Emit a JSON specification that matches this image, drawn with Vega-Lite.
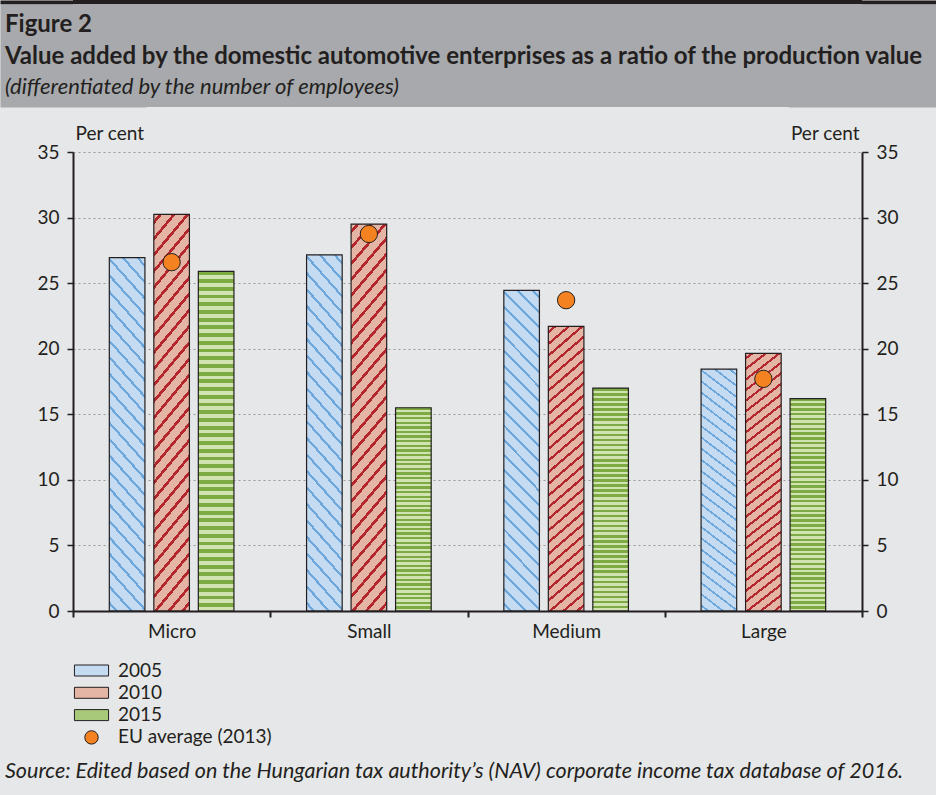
{
"$schema": "https://vega.github.io/schema/vega-lite/v6.json",
"background": "#e6e7e8",
"padding": {"left": 0, "top": 0, "right": 0, "bottom": 14},
"config": {
  "font": "Lato",
  "view": {"stroke": null},
  "axis": {"labelFontSize": 19, "labelColor": "#231f20", "titleFontSize": 19, "titleFontWeight": "normal", "titleColor": "#231f20", "domainColor": "#231f20", "tickColor": "#231f20", "labelFont": "Lato", "titleFont": "Lato"}
},
"title": {"text": "Source: Edited based on the Hungarian tax authority’s (NAV) corporate income tax database of 2016.", "orient": "bottom", "anchor": "start", "frame": "bounds", "dx": 5, "offset": 13, "fontSize": 21.5, "fontStyle": "italic", "fontWeight": "normal", "color": "#231f20", "font": "Lato"},
"datasets": {
  "bars": [
    {"cat": "Micro", "year": "2005", "value": 26.95},
    {"cat": "Micro", "year": "2010", "value": 30.25},
    {"cat": "Micro", "year": "2015", "value": 25.9},
    {"cat": "Small", "year": "2005", "value": 27.15},
    {"cat": "Small", "year": "2010", "value": 29.5},
    {"cat": "Small", "year": "2015", "value": 15.5},
    {"cat": "Medium", "year": "2005", "value": 24.45},
    {"cat": "Medium", "year": "2010", "value": 21.7},
    {"cat": "Medium", "year": "2015", "value": 17.0},
    {"cat": "Large", "year": "2005", "value": 18.45},
    {"cat": "Large", "year": "2010", "value": 19.65},
    {"cat": "Large", "year": "2015", "value": 16.2}
  ],
  "eu": [
    {"cat": "Micro", "value": 26.6},
    {"cat": "Small", "value": 28.75},
    {"cat": "Medium", "value": 23.7},
    {"cat": "Large", "value": 17.7}
  ]
},
"spacing": 0,
"vconcat": [
  {"width": 789, "height": 4, "view": {"fill": "#231f20", "stroke": null},
   "layer": [
     {"data": {"values": [{}]}, "mark": {"type": "text", "fontSize": 0}, "encoding": {"text": {"value": ""},
       "y": {"datum": 0, "type": "quantitative", "scale": {"domain": [0, 1]}, "axis": {"orient": "left", "labels": false, "ticks": false, "grid": false, "title": null, "domainColor": "#231f20", "domainWidth": 146, "domainCap": "butt", "minExtent": 73, "maxExtent": 73}}}},
     {"data": {"values": [{}]}, "mark": {"type": "text", "fontSize": 0}, "encoding": {"text": {"value": ""},
       "y": {"datum": 0, "type": "quantitative", "axis": {"orient": "right", "labels": false, "ticks": false, "grid": false, "title": null, "domainColor": "#231f20", "domainWidth": 147, "domainCap": "butt", "minExtent": 74, "maxExtent": 74}}}}
   ],
   "resolve": {"axis": {"y": "independent"}}
  },
  {"width": 789, "height": 103, "view": {"fill": "#a7a9ac", "stroke": null},
   "title": {"text": ["Figure 2", "Value added by the domestic automotive enterprises as a ratio of the production value"], "subtitle": "(differentiated by the number of employees)", "anchor": "start", "frame": "group", "orient": "top", "dx": -68, "offset": -93.5, "font": "Lato", "fontSize": 24, "fontWeight": "bold", "lineHeight": 32, "color": "#231f20", "subtitleFont": "Lato", "subtitleFontSize": 22, "subtitleFontStyle": "italic", "subtitleColor": "#231f20", "subtitlePadding": 8},
   "layer": [
     {"data": {"values": [{}]}, "mark": {"type": "text", "fontSize": 0}, "encoding": {"text": {"value": ""},
       "y": {"datum": 0, "type": "quantitative", "scale": {"domain": [0, 1]}, "axis": {"orient": "left", "labels": false, "ticks": false, "grid": false, "title": null, "domainColor": "#a7a9ac", "domainWidth": 146, "domainCap": "butt", "minExtent": 73, "maxExtent": 73}}}},
     {"data": {"values": [{}]}, "mark": {"type": "text", "fontSize": 0}, "encoding": {"text": {"value": ""},
       "y": {"datum": 0, "type": "quantitative", "axis": {"orient": "right", "labels": false, "ticks": false, "grid": false, "title": null, "domainColor": "#a7a9ac", "domainWidth": 147, "domainCap": "butt", "minExtent": 74, "maxExtent": 74}}}}
   ],
   "resolve": {"axis": {"y": "independent"}}
  },
  {
    "width": 789, "height": 459,
    "layer": [
      {"data": {"name": "bars"}, "mark": {"type": "bar"},
       "encoding": {
         "x": {"field": "cat", "type": "nominal", "sort": ["Micro", "Small", "Medium", "Large"], "scale": {"paddingInner": 0, "paddingOuter": 0},
               "axis": {"title": null, "labelAngle": 0, "tickBand": "extent", "tickSize": 6, "tickWidth": 2, "domainWidth": 2, "labelPadding": 5, "zindex": 1}},
         "xOffset": {"field": "year", "type": "nominal", "scale": {"paddingInner": 0.2, "paddingOuter": 0.8163}},
         "y": {"field": "value", "type": "quantitative", "scale": {"domain": [0, 35], "nice": false},
               "axis": {"orient": "left", "values": [0, 5, 10, 15, 20, 25, 30, 35], "grid": true, "gridColor": "#9a9a9a", "gridDash": [2, 3], "gridWidth": 1.2, "title": "Per cent", "titleAngle": 0, "titleAlign": "left", "titleBaseline": "alphabetic", "titleX": 2, "titleY": -13, "tickSize": 6, "tickWidth": 1.5, "domainWidth": 2, "labelPadding": 8, "minExtent": 73}},
         "fill": {"field": "year", "type": "nominal",
                  "scale": {"domain": ["2005", "2010", "2015", "EU average (2013)"], "range": ["#c5dbf1", "#e4b4a4", "#a8c97a", "#f58220"]},
                  "legend": {"title": null, "orient": "none", "legendX": 7, "legendY": 659, "direction": "vertical", "symbolSize": 484, "rowPadding": 0.3, "labelOffset": 15, "labelFontSize": 19, "labelColor": "#231f20", "labelFont": "Lato", "padding": 0, "symbolStrokeWidth": 1, "symbolStrokeColor": "#231f20",
                    "encoding": {"symbols": {
                      "shape": {"value": {"expr": "datum.value === 'EU average (2013)' ? 'circle' : 'M-1.55,-0.5H1.55V0.5H-1.55Z'"}},
                      "size": {"value": {"expr": "datum.value === 'EU average (2013)' ? 180 : 484"}},
                      "stroke": {"value": "#231f20"},
                      "strokeWidth": {"value": 1},
                      "fill": {"value": {"expr": "datum.value === '2005' ? {gradient:'linear',x1:0,y1:1,x2:1.2,y2:0.61,stops:[{offset:0,color:'#c5dbf1'},{offset:0.133,color:'#c5dbf1'},{offset:0.133,color:'#6ea7db'},{offset:0.2,color:'#6ea7db'},{offset:0.2,color:'#c5dbf1'},{offset:0.467,color:'#c5dbf1'},{offset:0.467,color:'#6ea7db'},{offset:0.533,color:'#6ea7db'},{offset:0.533,color:'#c5dbf1'},{offset:0.8,color:'#c5dbf1'},{offset:0.8,color:'#6ea7db'},{offset:0.867,color:'#6ea7db'},{offset:0.867,color:'#c5dbf1'},{offset:1,color:'#c5dbf1'}]} : datum.value === '2010' ? {gradient:'linear',x1:0,y1:0,x2:1.2,y2:0.39,stops:[{offset:0,color:'#e4b4a4'},{offset:0.124,color:'#e4b4a4'},{offset:0.124,color:'#b3262e'},{offset:0.21,color:'#b3262e'},{offset:0.21,color:'#e4b4a4'},{offset:0.457,color:'#e4b4a4'},{offset:0.457,color:'#b3262e'},{offset:0.543,color:'#b3262e'},{offset:0.543,color:'#e4b4a4'},{offset:0.79,color:'#e4b4a4'},{offset:0.79,color:'#b3262e'},{offset:0.876,color:'#b3262e'},{offset:0.876,color:'#e4b4a4'},{offset:1,color:'#e4b4a4'}]} : datum.value === '2015' ? {gradient:'linear',x1:0,y1:0,x2:0,y2:1,stops:[{offset:0,color:'#7eaa44'},{offset:0.2,color:'#7eaa44'},{offset:0.2,color:'#d0e3b1'},{offset:0.4,color:'#d0e3b1'},{offset:0.4,color:'#7eaa44'},{offset:0.6,color:'#7eaa44'},{offset:0.6,color:'#d0e3b1'},{offset:0.8,color:'#d0e3b1'},{offset:0.8,color:'#7eaa44'},{offset:1,color:'#7eaa44'}]} : '#f58220'"}}
                    }}}}
       }},
      {"data": {"name": "bars"}, "mark": {"type": "bar", "stroke": "#231f20", "strokeWidth": 1.2},
       "encoding": {
         "x": {"field": "cat", "type": "nominal", "sort": ["Micro", "Small", "Medium", "Large"],
               "axis": {"orient": "top", "labels": false, "ticks": false, "domain": false, "grid": false, "title": null, "minExtent": 45, "maxExtent": 45}},
         "xOffset": {"field": "year", "type": "nominal"},
         "y": {"field": "value", "type": "quantitative",
               "axis": {"orient": "right", "values": [0, 5, 10, 15, 20, 25, 30, 35], "grid": false, "title": "Per cent", "titleAngle": 0, "titleAlign": "right", "titleBaseline": "alphabetic", "titleX": -3, "titleY": -13, "tickSize": 6, "tickWidth": 1.5, "domainWidth": 2, "labelPadding": 8, "minExtent": 74}},
         "fill": {"condition": [
           {"test": "datum.year === '2005'", "value": {"gradient": "linear", "x1": 0, "y1": 1, "x2": 0.123, "y2": -0.098, "stops": [
             {"offset":0,"color":"#c5dbf1"},
             {"offset":0.0167,"color":"#c5dbf1"},{"offset":0.0167,"color":"#6ea7db"},{"offset":0.025,"color":"#6ea7db"},{"offset":0.025,"color":"#c5dbf1"},
             {"offset":0.0583,"color":"#c5dbf1"},{"offset":0.0583,"color":"#6ea7db"},{"offset":0.0667,"color":"#6ea7db"},{"offset":0.0667,"color":"#c5dbf1"},
             {"offset":0.1,"color":"#c5dbf1"},{"offset":0.1,"color":"#6ea7db"},{"offset":0.1083,"color":"#6ea7db"},{"offset":0.1083,"color":"#c5dbf1"},
             {"offset":0.1417,"color":"#c5dbf1"},{"offset":0.1417,"color":"#6ea7db"},{"offset":0.15,"color":"#6ea7db"},{"offset":0.15,"color":"#c5dbf1"},
             {"offset":0.1833,"color":"#c5dbf1"},{"offset":0.1833,"color":"#6ea7db"},{"offset":0.1917,"color":"#6ea7db"},{"offset":0.1917,"color":"#c5dbf1"},
             {"offset":0.225,"color":"#c5dbf1"},{"offset":0.225,"color":"#6ea7db"},{"offset":0.2333,"color":"#6ea7db"},{"offset":0.2333,"color":"#c5dbf1"},
             {"offset":0.2667,"color":"#c5dbf1"},{"offset":0.2667,"color":"#6ea7db"},{"offset":0.275,"color":"#6ea7db"},{"offset":0.275,"color":"#c5dbf1"},
             {"offset":0.3083,"color":"#c5dbf1"},{"offset":0.3083,"color":"#6ea7db"},{"offset":0.3167,"color":"#6ea7db"},{"offset":0.3167,"color":"#c5dbf1"},
             {"offset":0.35,"color":"#c5dbf1"},{"offset":0.35,"color":"#6ea7db"},{"offset":0.3583,"color":"#6ea7db"},{"offset":0.3583,"color":"#c5dbf1"},
             {"offset":0.3917,"color":"#c5dbf1"},{"offset":0.3917,"color":"#6ea7db"},{"offset":0.4,"color":"#6ea7db"},{"offset":0.4,"color":"#c5dbf1"},
             {"offset":0.4333,"color":"#c5dbf1"},{"offset":0.4333,"color":"#6ea7db"},{"offset":0.4417,"color":"#6ea7db"},{"offset":0.4417,"color":"#c5dbf1"},
             {"offset":0.475,"color":"#c5dbf1"},{"offset":0.475,"color":"#6ea7db"},{"offset":0.4833,"color":"#6ea7db"},{"offset":0.4833,"color":"#c5dbf1"},
             {"offset":0.5167,"color":"#c5dbf1"},{"offset":0.5167,"color":"#6ea7db"},{"offset":0.525,"color":"#6ea7db"},{"offset":0.525,"color":"#c5dbf1"},
             {"offset":0.5583,"color":"#c5dbf1"},{"offset":0.5583,"color":"#6ea7db"},{"offset":0.5667,"color":"#6ea7db"},{"offset":0.5667,"color":"#c5dbf1"},
             {"offset":0.6,"color":"#c5dbf1"},{"offset":0.6,"color":"#6ea7db"},{"offset":0.6083,"color":"#6ea7db"},{"offset":0.6083,"color":"#c5dbf1"},
             {"offset":0.6417,"color":"#c5dbf1"},{"offset":0.6417,"color":"#6ea7db"},{"offset":0.65,"color":"#6ea7db"},{"offset":0.65,"color":"#c5dbf1"},
             {"offset":0.6833,"color":"#c5dbf1"},{"offset":0.6833,"color":"#6ea7db"},{"offset":0.6917,"color":"#6ea7db"},{"offset":0.6917,"color":"#c5dbf1"},
             {"offset":0.725,"color":"#c5dbf1"},{"offset":0.725,"color":"#6ea7db"},{"offset":0.7333,"color":"#6ea7db"},{"offset":0.7333,"color":"#c5dbf1"},
             {"offset":0.7667,"color":"#c5dbf1"},{"offset":0.7667,"color":"#6ea7db"},{"offset":0.775,"color":"#6ea7db"},{"offset":0.775,"color":"#c5dbf1"},
             {"offset":0.8083,"color":"#c5dbf1"},{"offset":0.8083,"color":"#6ea7db"},{"offset":0.8167,"color":"#6ea7db"},{"offset":0.8167,"color":"#c5dbf1"},
             {"offset":0.85,"color":"#c5dbf1"},{"offset":0.85,"color":"#6ea7db"},{"offset":0.8583,"color":"#6ea7db"},{"offset":0.8583,"color":"#c5dbf1"},
             {"offset":0.8917,"color":"#c5dbf1"},{"offset":0.8917,"color":"#6ea7db"},{"offset":0.9,"color":"#6ea7db"},{"offset":0.9,"color":"#c5dbf1"},
             {"offset":0.9333,"color":"#c5dbf1"},{"offset":0.9333,"color":"#6ea7db"},{"offset":0.9417,"color":"#6ea7db"},{"offset":0.9417,"color":"#c5dbf1"},
             {"offset":0.975,"color":"#c5dbf1"},{"offset":0.975,"color":"#6ea7db"},{"offset":0.9833,"color":"#6ea7db"},{"offset":0.9833,"color":"#c5dbf1"},
             {"offset":1,"color":"#c5dbf1"}]}},
           {"test": "datum.year === '2010'", "value": {"gradient": "linear", "x1": 0, "y1": 0, "x2": 0.1176, "y2": 1.0947, "stops": [
             {"offset":0,"color":"#e4b4a4"},
             {"offset":0.0137,"color":"#e4b4a4"},{"offset":0.0137,"color":"#b3262e"},{"offset":0.0233,"color":"#b3262e"},{"offset":0.0233,"color":"#e4b4a4"},
             {"offset":0.0507,"color":"#e4b4a4"},{"offset":0.0507,"color":"#b3262e"},{"offset":0.0603,"color":"#b3262e"},{"offset":0.0603,"color":"#e4b4a4"},
             {"offset":0.0878,"color":"#e4b4a4"},{"offset":0.0878,"color":"#b3262e"},{"offset":0.0974,"color":"#b3262e"},{"offset":0.0974,"color":"#e4b4a4"},
             {"offset":0.1248,"color":"#e4b4a4"},{"offset":0.1248,"color":"#b3262e"},{"offset":0.1344,"color":"#b3262e"},{"offset":0.1344,"color":"#e4b4a4"},
             {"offset":0.1618,"color":"#e4b4a4"},{"offset":0.1618,"color":"#b3262e"},{"offset":0.1714,"color":"#b3262e"},{"offset":0.1714,"color":"#e4b4a4"},
             {"offset":0.1989,"color":"#e4b4a4"},{"offset":0.1989,"color":"#b3262e"},{"offset":0.2085,"color":"#b3262e"},{"offset":0.2085,"color":"#e4b4a4"},
             {"offset":0.2359,"color":"#e4b4a4"},{"offset":0.2359,"color":"#b3262e"},{"offset":0.2455,"color":"#b3262e"},{"offset":0.2455,"color":"#e4b4a4"},
             {"offset":0.273,"color":"#e4b4a4"},{"offset":0.273,"color":"#b3262e"},{"offset":0.2826,"color":"#b3262e"},{"offset":0.2826,"color":"#e4b4a4"},
             {"offset":0.31,"color":"#e4b4a4"},{"offset":0.31,"color":"#b3262e"},{"offset":0.3196,"color":"#b3262e"},{"offset":0.3196,"color":"#e4b4a4"},
             {"offset":0.347,"color":"#e4b4a4"},{"offset":0.347,"color":"#b3262e"},{"offset":0.3566,"color":"#b3262e"},{"offset":0.3566,"color":"#e4b4a4"},
             {"offset":0.3841,"color":"#e4b4a4"},{"offset":0.3841,"color":"#b3262e"},{"offset":0.3937,"color":"#b3262e"},{"offset":0.3937,"color":"#e4b4a4"},
             {"offset":0.4211,"color":"#e4b4a4"},{"offset":0.4211,"color":"#b3262e"},{"offset":0.4307,"color":"#b3262e"},{"offset":0.4307,"color":"#e4b4a4"},
             {"offset":0.4581,"color":"#e4b4a4"},{"offset":0.4581,"color":"#b3262e"},{"offset":0.4677,"color":"#b3262e"},{"offset":0.4677,"color":"#e4b4a4"},
             {"offset":0.4952,"color":"#e4b4a4"},{"offset":0.4952,"color":"#b3262e"},{"offset":0.5048,"color":"#b3262e"},{"offset":0.5048,"color":"#e4b4a4"},
             {"offset":0.5322,"color":"#e4b4a4"},{"offset":0.5322,"color":"#b3262e"},{"offset":0.5418,"color":"#b3262e"},{"offset":0.5418,"color":"#e4b4a4"},
             {"offset":0.5693,"color":"#e4b4a4"},{"offset":0.5693,"color":"#b3262e"},{"offset":0.5789,"color":"#b3262e"},{"offset":0.5789,"color":"#e4b4a4"},
             {"offset":0.6063,"color":"#e4b4a4"},{"offset":0.6063,"color":"#b3262e"},{"offset":0.6159,"color":"#b3262e"},{"offset":0.6159,"color":"#e4b4a4"},
             {"offset":0.6433,"color":"#e4b4a4"},{"offset":0.6433,"color":"#b3262e"},{"offset":0.6529,"color":"#b3262e"},{"offset":0.6529,"color":"#e4b4a4"},
             {"offset":0.6804,"color":"#e4b4a4"},{"offset":0.6804,"color":"#b3262e"},{"offset":0.69,"color":"#b3262e"},{"offset":0.69,"color":"#e4b4a4"},
             {"offset":0.7174,"color":"#e4b4a4"},{"offset":0.7174,"color":"#b3262e"},{"offset":0.727,"color":"#b3262e"},{"offset":0.727,"color":"#e4b4a4"},
             {"offset":0.7544,"color":"#e4b4a4"},{"offset":0.7544,"color":"#b3262e"},{"offset":0.764,"color":"#b3262e"},{"offset":0.764,"color":"#e4b4a4"},
             {"offset":0.7915,"color":"#e4b4a4"},{"offset":0.7915,"color":"#b3262e"},{"offset":0.8011,"color":"#b3262e"},{"offset":0.8011,"color":"#e4b4a4"},
             {"offset":0.8285,"color":"#e4b4a4"},{"offset":0.8285,"color":"#b3262e"},{"offset":0.8381,"color":"#b3262e"},{"offset":0.8381,"color":"#e4b4a4"},
             {"offset":0.8656,"color":"#e4b4a4"},{"offset":0.8656,"color":"#b3262e"},{"offset":0.8752,"color":"#b3262e"},{"offset":0.8752,"color":"#e4b4a4"},
             {"offset":0.9026,"color":"#e4b4a4"},{"offset":0.9026,"color":"#b3262e"},{"offset":0.9122,"color":"#b3262e"},{"offset":0.9122,"color":"#e4b4a4"},
             {"offset":0.9396,"color":"#e4b4a4"},{"offset":0.9396,"color":"#b3262e"},{"offset":0.9492,"color":"#b3262e"},{"offset":0.9492,"color":"#e4b4a4"},
             {"offset":0.9767,"color":"#e4b4a4"},{"offset":0.9767,"color":"#b3262e"},{"offset":0.9863,"color":"#b3262e"},{"offset":0.9863,"color":"#e4b4a4"},
             {"offset":1,"color":"#e4b4a4"}]}}
         ],
         "value": {"gradient": "linear", "x1": 0, "y1": 0, "x2": 0, "y2": 1, "stops": [
             {"offset":0,"color":"#7eaa44"},
             {"offset":0.0114,"color":"#7eaa44"},{"offset":0.0114,"color":"#d0e3b1"},{"offset":0.0227,"color":"#d0e3b1"},{"offset":0.0227,"color":"#7eaa44"},
             {"offset":0.0341,"color":"#7eaa44"},{"offset":0.0341,"color":"#d0e3b1"},{"offset":0.0455,"color":"#d0e3b1"},{"offset":0.0455,"color":"#7eaa44"},
             {"offset":0.0568,"color":"#7eaa44"},{"offset":0.0568,"color":"#d0e3b1"},{"offset":0.0682,"color":"#d0e3b1"},{"offset":0.0682,"color":"#7eaa44"},
             {"offset":0.0795,"color":"#7eaa44"},{"offset":0.0795,"color":"#d0e3b1"},{"offset":0.0909,"color":"#d0e3b1"},{"offset":0.0909,"color":"#7eaa44"},
             {"offset":0.1023,"color":"#7eaa44"},{"offset":0.1023,"color":"#d0e3b1"},{"offset":0.1136,"color":"#d0e3b1"},{"offset":0.1136,"color":"#7eaa44"},
             {"offset":0.125,"color":"#7eaa44"},{"offset":0.125,"color":"#d0e3b1"},{"offset":0.1364,"color":"#d0e3b1"},{"offset":0.1364,"color":"#7eaa44"},
             {"offset":0.1477,"color":"#7eaa44"},{"offset":0.1477,"color":"#d0e3b1"},{"offset":0.1591,"color":"#d0e3b1"},{"offset":0.1591,"color":"#7eaa44"},
             {"offset":0.1705,"color":"#7eaa44"},{"offset":0.1705,"color":"#d0e3b1"},{"offset":0.1818,"color":"#d0e3b1"},{"offset":0.1818,"color":"#7eaa44"},
             {"offset":0.1932,"color":"#7eaa44"},{"offset":0.1932,"color":"#d0e3b1"},{"offset":0.2045,"color":"#d0e3b1"},{"offset":0.2045,"color":"#7eaa44"},
             {"offset":0.2159,"color":"#7eaa44"},{"offset":0.2159,"color":"#d0e3b1"},{"offset":0.2273,"color":"#d0e3b1"},{"offset":0.2273,"color":"#7eaa44"},
             {"offset":0.2386,"color":"#7eaa44"},{"offset":0.2386,"color":"#d0e3b1"},{"offset":0.25,"color":"#d0e3b1"},{"offset":0.25,"color":"#7eaa44"},
             {"offset":0.2614,"color":"#7eaa44"},{"offset":0.2614,"color":"#d0e3b1"},{"offset":0.2727,"color":"#d0e3b1"},{"offset":0.2727,"color":"#7eaa44"},
             {"offset":0.2841,"color":"#7eaa44"},{"offset":0.2841,"color":"#d0e3b1"},{"offset":0.2955,"color":"#d0e3b1"},{"offset":0.2955,"color":"#7eaa44"},
             {"offset":0.3068,"color":"#7eaa44"},{"offset":0.3068,"color":"#d0e3b1"},{"offset":0.3182,"color":"#d0e3b1"},{"offset":0.3182,"color":"#7eaa44"},
             {"offset":0.3295,"color":"#7eaa44"},{"offset":0.3295,"color":"#d0e3b1"},{"offset":0.3409,"color":"#d0e3b1"},{"offset":0.3409,"color":"#7eaa44"},
             {"offset":0.3523,"color":"#7eaa44"},{"offset":0.3523,"color":"#d0e3b1"},{"offset":0.3636,"color":"#d0e3b1"},{"offset":0.3636,"color":"#7eaa44"},
             {"offset":0.375,"color":"#7eaa44"},{"offset":0.375,"color":"#d0e3b1"},{"offset":0.3864,"color":"#d0e3b1"},{"offset":0.3864,"color":"#7eaa44"},
             {"offset":0.3977,"color":"#7eaa44"},{"offset":0.3977,"color":"#d0e3b1"},{"offset":0.4091,"color":"#d0e3b1"},{"offset":0.4091,"color":"#7eaa44"},
             {"offset":0.4205,"color":"#7eaa44"},{"offset":0.4205,"color":"#d0e3b1"},{"offset":0.4318,"color":"#d0e3b1"},{"offset":0.4318,"color":"#7eaa44"},
             {"offset":0.4432,"color":"#7eaa44"},{"offset":0.4432,"color":"#d0e3b1"},{"offset":0.4545,"color":"#d0e3b1"},{"offset":0.4545,"color":"#7eaa44"},
             {"offset":0.4659,"color":"#7eaa44"},{"offset":0.4659,"color":"#d0e3b1"},{"offset":0.4773,"color":"#d0e3b1"},{"offset":0.4773,"color":"#7eaa44"},
             {"offset":0.4886,"color":"#7eaa44"},{"offset":0.4886,"color":"#d0e3b1"},{"offset":0.5,"color":"#d0e3b1"},{"offset":0.5,"color":"#7eaa44"},
             {"offset":0.5114,"color":"#7eaa44"},{"offset":0.5114,"color":"#d0e3b1"},{"offset":0.5227,"color":"#d0e3b1"},{"offset":0.5227,"color":"#7eaa44"},
             {"offset":0.5341,"color":"#7eaa44"},{"offset":0.5341,"color":"#d0e3b1"},{"offset":0.5455,"color":"#d0e3b1"},{"offset":0.5455,"color":"#7eaa44"},
             {"offset":0.5568,"color":"#7eaa44"},{"offset":0.5568,"color":"#d0e3b1"},{"offset":0.5682,"color":"#d0e3b1"},{"offset":0.5682,"color":"#7eaa44"},
             {"offset":0.5795,"color":"#7eaa44"},{"offset":0.5795,"color":"#d0e3b1"},{"offset":0.5909,"color":"#d0e3b1"},{"offset":0.5909,"color":"#7eaa44"},
             {"offset":0.6023,"color":"#7eaa44"},{"offset":0.6023,"color":"#d0e3b1"},{"offset":0.6136,"color":"#d0e3b1"},{"offset":0.6136,"color":"#7eaa44"},
             {"offset":0.625,"color":"#7eaa44"},{"offset":0.625,"color":"#d0e3b1"},{"offset":0.6364,"color":"#d0e3b1"},{"offset":0.6364,"color":"#7eaa44"},
             {"offset":0.6477,"color":"#7eaa44"},{"offset":0.6477,"color":"#d0e3b1"},{"offset":0.6591,"color":"#d0e3b1"},{"offset":0.6591,"color":"#7eaa44"},
             {"offset":0.6705,"color":"#7eaa44"},{"offset":0.6705,"color":"#d0e3b1"},{"offset":0.6818,"color":"#d0e3b1"},{"offset":0.6818,"color":"#7eaa44"},
             {"offset":0.6932,"color":"#7eaa44"},{"offset":0.6932,"color":"#d0e3b1"},{"offset":0.7045,"color":"#d0e3b1"},{"offset":0.7045,"color":"#7eaa44"},
             {"offset":0.7159,"color":"#7eaa44"},{"offset":0.7159,"color":"#d0e3b1"},{"offset":0.7273,"color":"#d0e3b1"},{"offset":0.7273,"color":"#7eaa44"},
             {"offset":0.7386,"color":"#7eaa44"},{"offset":0.7386,"color":"#d0e3b1"},{"offset":0.75,"color":"#d0e3b1"},{"offset":0.75,"color":"#7eaa44"},
             {"offset":0.7614,"color":"#7eaa44"},{"offset":0.7614,"color":"#d0e3b1"},{"offset":0.7727,"color":"#d0e3b1"},{"offset":0.7727,"color":"#7eaa44"},
             {"offset":0.7841,"color":"#7eaa44"},{"offset":0.7841,"color":"#d0e3b1"},{"offset":0.7955,"color":"#d0e3b1"},{"offset":0.7955,"color":"#7eaa44"},
             {"offset":0.8068,"color":"#7eaa44"},{"offset":0.8068,"color":"#d0e3b1"},{"offset":0.8182,"color":"#d0e3b1"},{"offset":0.8182,"color":"#7eaa44"},
             {"offset":0.8295,"color":"#7eaa44"},{"offset":0.8295,"color":"#d0e3b1"},{"offset":0.8409,"color":"#d0e3b1"},{"offset":0.8409,"color":"#7eaa44"},
             {"offset":0.8523,"color":"#7eaa44"},{"offset":0.8523,"color":"#d0e3b1"},{"offset":0.8636,"color":"#d0e3b1"},{"offset":0.8636,"color":"#7eaa44"},
             {"offset":0.875,"color":"#7eaa44"},{"offset":0.875,"color":"#d0e3b1"},{"offset":0.8864,"color":"#d0e3b1"},{"offset":0.8864,"color":"#7eaa44"},
             {"offset":0.8977,"color":"#7eaa44"},{"offset":0.8977,"color":"#d0e3b1"},{"offset":0.9091,"color":"#d0e3b1"},{"offset":0.9091,"color":"#7eaa44"},
             {"offset":0.9205,"color":"#7eaa44"},{"offset":0.9205,"color":"#d0e3b1"},{"offset":0.9318,"color":"#d0e3b1"},{"offset":0.9318,"color":"#7eaa44"},
             {"offset":0.9432,"color":"#7eaa44"},{"offset":0.9432,"color":"#d0e3b1"},{"offset":0.9545,"color":"#d0e3b1"},{"offset":0.9545,"color":"#7eaa44"},
             {"offset":0.9659,"color":"#7eaa44"},{"offset":0.9659,"color":"#d0e3b1"},{"offset":0.9773,"color":"#d0e3b1"},{"offset":0.9773,"color":"#7eaa44"},
             {"offset":0.9886,"color":"#7eaa44"},{"offset":0.9886,"color":"#d0e3b1"},{"offset":1,"color":"#d0e3b1"}]}}
       }},
      {"data": {"name": "eu"}, "mark": {"type": "circle", "size": 300, "opacity": 1, "stroke": "#231f20", "strokeWidth": 1},
       "encoding": {
         "x": {"field": "cat", "type": "nominal", "sort": ["Micro", "Small", "Medium", "Large"], "axis": null},
         "y": {"field": "value", "type": "quantitative", "axis": null},
         "fill": {"datum": "EU average (2013)", "type": "nominal"}
       }}
    ],
    "resolve": {"axis": {"y": "independent", "x": "independent"}}
  }
]
}
